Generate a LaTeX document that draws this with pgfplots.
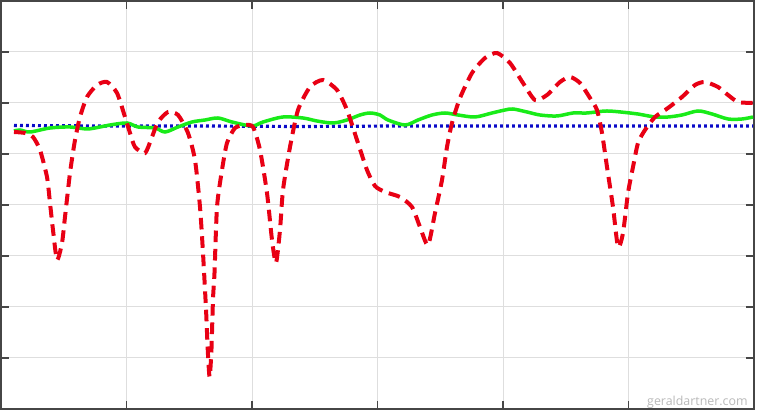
\documentclass[border=0pt]{standalone}
\usepackage{pgfplots}
\pgfplotsset{compat=1.18}
\usepackage{fontspec}
\newfontfamily\wmfont{Open Sans}
\definecolor{axgray}{RGB}{70,70,70}
\definecolor{gridgray}{RGB}{222,222,222}
\definecolor{cred}{RGB}{232,0,20}
\definecolor{cgreen}{RGB}{25,235,25}
\definecolor{cblue}{RGB}{10,10,200}
\definecolor{wmgray}{RGB}{185,185,185}

\begin{document}
\begin{tikzpicture}
  \begin{axis}[
    scale only axis,
    width=376.5pt, height=204pt,
    xmin=1, xmax=754, ymin=0, ymax=408,
    xtick={126.5,252,377.5,503,628.5},
    ytick={51,102,153,204,255,306,357},
    xticklabels={}, yticklabels={},
    tick pos=both, tick align=inside,
    major tick length=4pt,
    grid=major,
    major grid style={gridgray, line width=0.5pt},
    tick style={axgray, line width=0.6pt},
    axis line style={axgray, line width=0.75pt},
    clip=true,
  ]
    % blue reference (dotted)
    \addplot[cblue, line width=1.6pt, dash pattern=on 1.4pt off 1.6pt] coordinates {
      (14,283.5) (100,283) (200,283) (300,282.5) (400,283) (500,283)
      (600,283) (700,283) (753,283)
    };
    % green measurement (solid)
    \addplot[cgreen, line width=1.75pt, smooth, tension=0.5] coordinates {
      (14,278) (20,279) (30,277) (50,281) (70,282) (87,280) (100,282)
      (110,284) (127,286) (138,282) (155,281) (165,277) (178,282)
      (192,287) (205,289) (218,291) (232,287) (252,283) (263,287)
      (283,292) (303,291) (317,288) (333,286) (347,289) (360,294)
      (370,296) (380,294) (388,289) (405,284) (418,289) (432,294)
      (445,296) (458,294) (475,292) (492,296) (505,299) (513,300)
      (527,297) (540,294) (557,293) (573,296) (587,296) (607,298)
      (630,296) (638,295) (655,292) (668,292) (682,294) (698,298)
      (712,295) (728,290) (742,290) (753,292)
    };
    % red signal (dashed)
    \addplot[cred, line width=2pt, dash pattern=on 5.8pt off 3.4pt, smooth, tension=0.4] coordinates {
      (14,277) (25,276) (33,272) (40,259) (47,232) (50,206) (53,179)
      (57,149) (62,166) (65,192) (70,236) (75,269) (80,292) (87,312)
      (97,324) (107,327) (117,316) (125,292) (130,276) (135,262)
      (145,256) (152,272) (158,287) (168,297) (178,294) (188,276)
      (195,249) (200,202) (203,156) (206,100) (207.8,58) (209.6,32)
      (211.4,58) (213,110) (214.5,136) (217,202) (222,239) (227,266)
      (235,281) (245,284)
      (253,282) (260,259) (267,216) (272,169) (276,146) (280,179)
      (283,219) (290,262) (298,299) (310,322) (323,329) (337,319)
      (347,299) (357,269) (367,239) (375,223) (385,217) (400,212)
      (412,202) (420,182) (428,164) (435,196) (442,229) (447,262)
      (452,286) (460,311) (472,336) (485,351) (497,356) (510,346)
      (523,326) (535,309) (547,314) (560,327) (570,332) (580,326)
      (590,311) (597,299) (602,276) (607,242) (613,202) (618,162)
      (623,176) (628,216) (633,242) (638,266) (645,279) (655,292)
      (668,301) (682,312) (695,324) (705,327) (718,322) (728,314)
      (738,307) (753,306)
    };
    \coordinate (sw) at (rel axis cs:0,0);
    \coordinate (ne) at (rel axis cs:1,1);
    \node[anchor=east, text=wmgray, font=\wmfont\fontsize{6.2pt}{7pt}\selectfont, inner sep=0pt]
      at (axis cs:748,7) {geraldartner.com};
  \end{axis}
  \pgfresetboundingbox
  \path[use as bounding box] ([shift={(-0.5pt,-0.5pt)}]sw) rectangle ([shift={(3pt,0.5pt)}]ne);
\end{tikzpicture}
\end{document}
